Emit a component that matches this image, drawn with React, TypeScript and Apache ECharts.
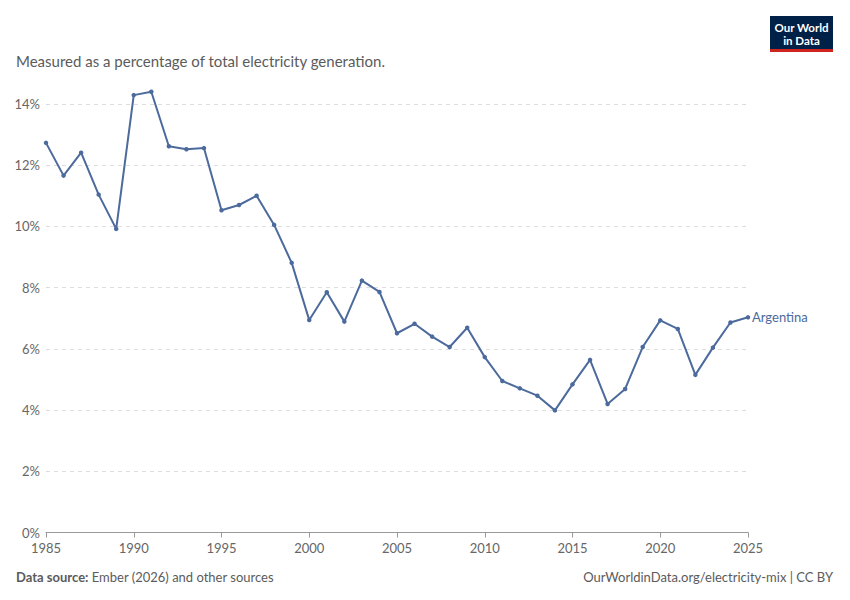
import React, { useEffect, useRef } from "react";
import * as echarts from "echarts";

const years: number[] = [
  1985, 1986, 1987, 1988, 1989, 1990, 1991, 1992, 1993, 1994,
  1995, 1996, 1997, 1998, 1999, 2000, 2001, 2002, 2003, 2004,
  2005, 2006, 2007, 2008, 2009, 2010, 2011, 2012, 2013, 2014,
  2015, 2016, 2017, 2018, 2019, 2020, 2021, 2022, 2023, 2024, 2025,
];

const argentina: number[] = [
  12.73, 11.66, 12.41, 11.04, 9.92, 14.29, 14.4, 12.62, 12.52, 12.56,
  10.53, 10.7, 11.0, 10.05, 8.81, 6.94, 7.85, 6.89, 8.23, 7.86,
  6.51, 6.82, 6.4, 6.06, 6.69, 5.73, 4.95, 4.71, 4.47, 3.99,
  4.84, 5.64, 4.2, 4.69, 6.06, 6.93, 6.65, 5.15, 6.04, 6.86, 7.03,
];

const seriesName = "Argentina";
const subtitle = "Measured as a percentage of total electricity generation.";
const sourceLabel = "Data source:";
const sourceText = " Ember (2026) and other sources";
const urlText = "OurWorldinData.org/electricity-mix | CC BY";
const logoLines = ["Our World", "in Data"];

export default function App() {
  const ref = useRef<HTMLDivElement>(null);

  useEffect(() => {
    if (!ref.current) return;
    const chart = echarts.init(ref.current, undefined, { renderer: "svg" });
    const font = "Lato, 'Noto Sans', sans-serif";
    const lineColor = "#4c6a9c";
    chart.setOption({
      animation: false,
      textStyle: { fontFamily: font },
      grid: { left: 46, right: 102, top: 104, bottom: 67.5, containLabel: false },
      xAxis: {
        type: "value",
        min: 1985,
        max: 2025,
        interval: 5,
        axisLine: { show: true, lineStyle: { color: "#999", width: 1 } },
        axisTick: { show: true, length: 5, lineStyle: { color: "#999" } },
        axisLabel: {
          color: "#666",
          fontSize: 13,
          fontFamily: font,
          margin: 9,
          formatter: (v: number) => String(v),
        },
        splitLine: { show: false },
      },
      yAxis: {
        type: "value",
        min: 0,
        max: 14,
        interval: 2,
        axisLine: { show: false },
        axisTick: { show: false },
        axisLabel: {
          color: "#666",
          fontSize: 13,
          fontFamily: font,
          margin: 6,
          formatter: (v: number) => v + "%",
        },
        splitLine: {
          show: true,
          lineStyle: { color: "#dddddd", type: [4, 4], width: 1 },
        },
      },
      series: [
        {
          name: seriesName,
          type: "line",
          clip: false,
          data: years.map((y, i) => [y, argentina[i]]),
          lineStyle: { color: lineColor, width: 2 },
          itemStyle: { color: lineColor },
          symbol: "circle",
          symbolSize: 4.5,
          showSymbol: true,
          endLabel: {
            show: true,
            formatter: seriesName,
            color: lineColor,
            fontSize: 13,
            fontFamily: font,
            distance: 4,
          },
        },
      ],
      graphic: [
        {
          type: "text",
          left: 16,
          top: 53,
          style: {
            text: subtitle,
            fontSize: 15,
            fill: "#5b5b5b",
            fontFamily: font,
          },
        },
        {
          type: "group",
          left: 770,
          top: 16,
          children: [
            { type: "rect", shape: { x: 0, y: 0, width: 63, height: 34 }, style: { fill: "#002147" } },
            { type: "rect", shape: { x: 0, y: 33, width: 63, height: 3 }, style: { fill: "#ce261e" } },
            {
              type: "text",
              x: 31.5,
              y: 11,
              style: {
                text: logoLines[0],
                fill: "#ffffff",
                fontSize: 11.5,
                fontWeight: "bold",
                fontFamily: font,
                align: "center",
                verticalAlign: "middle",
              },
            },
            {
              type: "text",
              x: 31.5,
              y: 24,
              style: {
                text: logoLines[1],
                fill: "#ffffff",
                fontSize: 11.5,
                fontWeight: "bold",
                fontFamily: font,
                align: "center",
                verticalAlign: "middle",
              },
            },
          ],
        },
        {
          type: "text",
          left: 16,
          top: 570,
          style: {
            rich: {
              b: { fontWeight: "bold", fontSize: 13, fill: "#5b5b5b", fontFamily: font },
              n: { fontSize: 13, fill: "#5b5b5b", fontFamily: font },
            },
            text: "{b|" + sourceLabel + "}{n|" + sourceText + "}",
          },
        },
        {
          type: "text",
          right: 17,
          top: 570,
          style: {
            text: urlText,
            fontSize: 13,
            fill: "#5b5b5b",
            fontFamily: font,
          },
        },
      ],
    });
    return () => chart.dispose();
  }, []);

  return (
    <div
      ref={ref}
      style={{ position: "absolute", left: 0, top: 0, width: 850, height: 600 }}
    />
  );
}
